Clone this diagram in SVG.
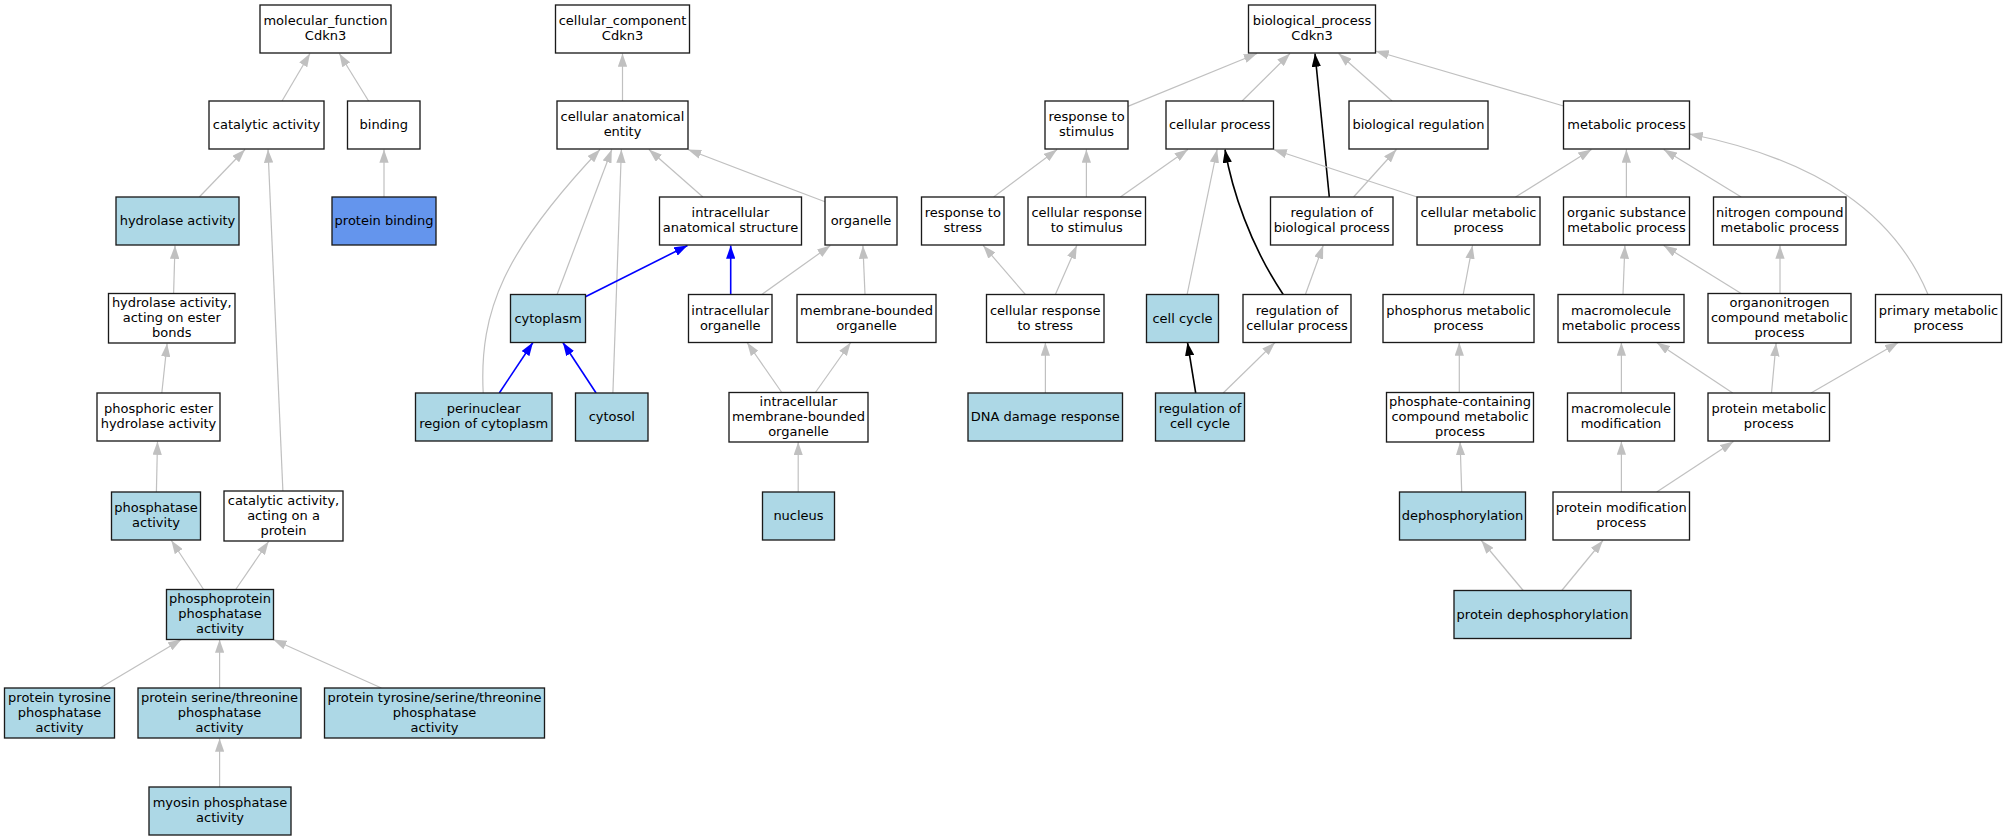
<svg xmlns="http://www.w3.org/2000/svg" width="2008" height="840" viewBox="0 0 2008 840">
<style>
.n rect{fill:#fff;stroke:#1a1a1a;stroke-width:1.33}
.n.lb rect{fill:#add8e6}
.n.cb rect{fill:#6495ed}
text{font-family:"DejaVu Sans","Liberation Sans",sans-serif;font-size:13px;text-anchor:middle;fill:#000}
.e{fill:none;stroke:#c0c0c0;stroke-width:1.2;marker-end:url(#ag)}
.e.b{stroke:#0000ff;stroke-width:1.6;marker-end:url(#ab)}
.e.k{stroke:#000;stroke-width:1.6;marker-end:url(#ak)}
</style>
<defs>
<marker id="ag" markerUnits="userSpaceOnUse" viewBox="0 0 13.3 9.3" refX="13.3" refY="4.65" markerWidth="13.3" markerHeight="9.3" orient="auto"><path d="M0,0L13.3,4.65L0,9.3z" fill="#c0c0c0"/></marker>
<marker id="ab" markerUnits="userSpaceOnUse" viewBox="0 0 13.3 9.3" refX="13.3" refY="4.65" markerWidth="13.3" markerHeight="9.3" orient="auto"><path d="M0,0L13.3,4.65L0,9.3z" fill="#0000ff"/></marker>
<marker id="ak" markerUnits="userSpaceOnUse" viewBox="0 0 13.3 9.3" refX="13.3" refY="4.65" markerWidth="13.3" markerHeight="9.3" orient="auto"><path d="M0,0L13.3,4.65L0,9.3z" fill="#000"/></marker>
</defs>
<rect width="2008" height="840" fill="#fff"/>
<g id="edges">
<path class="e" d="M282,101L310,53.5"/>
<path class="e" d="M368.6,101L339.3,53.5"/>
<path class="e" d="M199.3,197L245,149.5"/>
<path class="e" d="M384,197L384,149.5"/>
<path class="e" d="M173.6,293.5L175,245.5"/>
<path class="e" d="M161.8,393L167.1,343.5"/>
<path class="e" d="M282.9,491L268,149.5"/>
<path class="e" d="M156.4,492L157.5,441.5"/>
<path class="e" d="M203.6,589.5L171.4,540.5"/>
<path class="e" d="M235.7,589.5L268.6,541.5"/>
<path class="e" d="M100,688L181.4,639.5"/>
<path class="e" d="M219.6,688L219.6,639.5"/>
<path class="e" d="M381.4,688L273.2,639.5"/>
<path class="e" d="M219.6,787L219.6,738.5"/>
<path class="e" d="M622.5,101L622.5,53.5"/>
<path class="e" d="M702.9,197L648.9,149.5"/>
<path class="e" d="M825,201.8L687.9,149.5"/>
<path class="e" d="M557.1,294.5L611.8,149.5"/>
<path class="e" d="M483.2,393C479,310 505,250 600,149.5"/>
<path class="e" d="M612.9,393L621.4,149.5"/>
<path class="e b" d="M585.4,296.8L687.5,245.5"/>
<path class="e b" d="M730.7,294.5L730.7,245.5"/>
<path class="e" d="M761.8,294.5L830.4,245.5"/>
<path class="e" d="M865,294.5L862.9,245.5"/>
<path class="e b" d="M499.3,393L532.9,342.5"/>
<path class="e b" d="M596.1,393L562.9,342.5"/>
<path class="e" d="M781.8,392.5L747.1,342.5"/>
<path class="e" d="M815.4,392.5L850.7,342.5"/>
<path class="e" d="M798.2,492L798.2,442"/>
<path class="e" d="M1127.9,106.4L1257.1,53.5"/>
<path class="e" d="M1242.1,101L1290,53.5"/>
<path class="e k" d="M1329.3,197L1315,53.5"/>
<path class="e" d="M1392.1,101L1338.6,53.5"/>
<path class="e" d="M1563.6,106L1375.5,51"/>
<path class="e" d="M993.6,197L1057.1,149.5"/>
<path class="e" d="M1086.4,197L1086.4,149.5"/>
<path class="e" d="M1120.4,197L1187.9,149.5"/>
<path class="e" d="M1025.4,294.5L983.2,245.5"/>
<path class="e" d="M1055.4,294.5L1076.8,245.5"/>
<path class="e" d="M1045.4,393L1045.4,342.5"/>
<path class="e" d="M1187.1,294.5L1217.1,149.5"/>
<path class="e k" d="M1283.2,294.5C1250,245 1232,190 1225,149.5"/>
<path class="e" d="M1417.1,197L1273.6,149.5"/>
<path class="e" d="M1353.6,197L1396.4,149.5"/>
<path class="e" d="M1305.4,294.5L1323.2,245.5"/>
<path class="e k" d="M1195.7,393L1187.5,342.5"/>
<path class="e" d="M1223.2,393L1275,342.5"/>
<path class="e" d="M1515.5,197L1591.5,149.5"/>
<path class="e" d="M1626.4,197L1626.4,149.5"/>
<path class="e" d="M1741.2,197L1663.7,149.5"/>
<path class="e" d="M1928,294.5C1895,215 1820,160 1689.5,134"/>
<path class="e" d="M1463.2,294.5L1472.5,245.5"/>
<path class="e" d="M1623,294.5L1624.9,245.5"/>
<path class="e" d="M1741.2,293.5L1663.7,245.5"/>
<path class="e" d="M1780,293.5L1780,245.5"/>
<path class="e" d="M1459.3,392.5L1459.3,342.5"/>
<path class="e" d="M1621.4,393L1621.4,342.5"/>
<path class="e" d="M1732.7,393L1656.7,342.5"/>
<path class="e" d="M1771.5,393L1776.1,343"/>
<path class="e" d="M1811,393L1898.3,342.5"/>
<path class="e" d="M1461.7,492L1460.1,442"/>
<path class="e" d="M1621.4,492L1621.4,441.5"/>
<path class="e" d="M1656.7,492L1733.5,441.5"/>
<path class="e" d="M1523.2,590.5L1481.4,540.5"/>
<path class="e" d="M1561.8,590.5L1602.9,540.5"/>
</g>
<g id="n_mf" class="n"><rect x="260" y="5" width="131" height="48"/><text x="325.5" y="25">molecular_function</text><text x="325.5" y="40">Cdkn3</text></g>
<g id="n_cat" class="n"><rect x="209" y="101" width="115" height="48"/><text x="266.5" y="129">catalytic activity</text></g>
<g id="n_bind" class="n"><rect x="347.5" y="101" width="72.5" height="48"/><text x="383.75" y="129">binding</text></g>
<g id="n_hyd" class="n lb"><rect x="116" y="197" width="123" height="48"/><text x="177.5" y="225">hydrolase activity</text></g>
<g id="n_pbind" class="n cb"><rect x="332" y="197" width="104" height="48"/><text x="384" y="225">protein binding</text></g>
<g id="n_hydest" class="n"><rect x="108.5" y="293.5" width="126.5" height="49.5"/><text x="171.75" y="307">hydrolase activity,</text><text x="171.75" y="322">acting on ester</text><text x="171.75" y="337">bonds</text></g>
<g id="n_phest" class="n"><rect x="97" y="393" width="123" height="48"/><text x="158.5" y="413">phosphoric ester</text><text x="158.5" y="428">hydrolase activity</text></g>
<g id="n_phos" class="n lb"><rect x="111.5" y="492" width="89" height="48"/><text x="156" y="512">phosphatase</text><text x="156" y="527">activity</text></g>
<g id="n_catprot" class="n"><rect x="224" y="491" width="119" height="50"/><text x="283.5" y="504.5">catalytic activity,</text><text x="283.5" y="519.5">acting on a</text><text x="283.5" y="534.5">protein</text></g>
<g id="n_ppp" class="n lb"><rect x="166.5" y="589.5" width="107" height="50"/><text x="220" y="603">phosphoprotein</text><text x="220" y="618">phosphatase</text><text x="220" y="633">activity</text></g>
<g id="n_pty" class="n lb"><rect x="4.5" y="688" width="110" height="50"/><text x="59.5" y="701.5">protein tyrosine</text><text x="59.5" y="716.5">phosphatase</text><text x="59.5" y="731.5">activity</text></g>
<g id="n_pst" class="n lb"><rect x="138" y="688" width="163" height="50"/><text x="219.5" y="701.5">protein serine/threonine</text><text x="219.5" y="716.5">phosphatase</text><text x="219.5" y="731.5">activity</text></g>
<g id="n_ptst" class="n lb"><rect x="324.5" y="688" width="220" height="50"/><text x="434.5" y="701.5">protein tyrosine/serine/threonine</text><text x="434.5" y="716.5">phosphatase</text><text x="434.5" y="731.5">activity</text></g>
<g id="n_myo" class="n lb"><rect x="149" y="787" width="142" height="48"/><text x="220" y="807">myosin phosphatase</text><text x="220" y="822">activity</text></g>
<g id="n_cc" class="n"><rect x="555.5" y="5" width="134" height="48"/><text x="622.5" y="25">cellular_component</text><text x="622.5" y="40">Cdkn3</text></g>
<g id="n_cae" class="n"><rect x="557" y="101" width="131" height="48"/><text x="622.5" y="121">cellular anatomical</text><text x="622.5" y="136">entity</text></g>
<g id="n_ias" class="n"><rect x="659.5" y="197" width="142" height="48"/><text x="730.5" y="217">intracellular</text><text x="730.5" y="232">anatomical structure</text></g>
<g id="n_org" class="n"><rect x="825" y="197" width="72" height="48"/><text x="861" y="225">organelle</text></g>
<g id="n_cyto" class="n lb"><rect x="510.5" y="294.5" width="75" height="48"/><text x="548" y="322.5">cytoplasm</text></g>
<g id="n_io" class="n"><rect x="688.5" y="294.5" width="83.5" height="48"/><text x="730.25" y="314.5">intracellular</text><text x="730.25" y="329.5">organelle</text></g>
<g id="n_mbo" class="n"><rect x="797" y="294.5" width="139" height="48"/><text x="866.5" y="314.5">membrane-bounded</text><text x="866.5" y="329.5">organelle</text></g>
<g id="n_peri" class="n lb"><rect x="415.5" y="393" width="136.5" height="48"/><text x="483.75" y="413">perinuclear</text><text x="483.75" y="428">region of cytoplasm</text></g>
<g id="n_cytosol" class="n lb"><rect x="575.5" y="393" width="72.5" height="48"/><text x="611.75" y="421">cytosol</text></g>
<g id="n_imbo" class="n"><rect x="729" y="392.5" width="139" height="49.5"/><text x="798.5" y="406">intracellular</text><text x="798.5" y="421">membrane-bounded</text><text x="798.5" y="436">organelle</text></g>
<g id="n_nuc" class="n lb"><rect x="762.5" y="492" width="72" height="48"/><text x="798.5" y="520">nucleus</text></g>
<g id="n_bp" class="n"><rect x="1248.5" y="5" width="127" height="48"/><text x="1312" y="25">biological_process</text><text x="1312" y="40">Cdkn3</text></g>
<g id="n_rs" class="n"><rect x="1045" y="101" width="83" height="48"/><text x="1086.5" y="121">response to</text><text x="1086.5" y="136">stimulus</text></g>
<g id="n_cp" class="n"><rect x="1166" y="101" width="107.5" height="48"/><text x="1219.75" y="129">cellular process</text></g>
<g id="n_br" class="n"><rect x="1349" y="101" width="139" height="48"/><text x="1418.5" y="129">biological regulation</text></g>
<g id="n_met" class="n"><rect x="1563.5" y="101" width="126" height="48"/><text x="1626.5" y="129">metabolic process</text></g>
<g id="n_rstress" class="n"><rect x="921.5" y="197" width="82.5" height="48"/><text x="962.75" y="217">response to</text><text x="962.75" y="232">stress</text></g>
<g id="n_crs" class="n"><rect x="1028" y="197" width="117.5" height="48"/><text x="1086.75" y="217">cellular response</text><text x="1086.75" y="232">to stimulus</text></g>
<g id="n_rbp" class="n"><rect x="1270.5" y="197" width="122.5" height="48"/><text x="1331.75" y="217">regulation of</text><text x="1331.75" y="232">biological process</text></g>
<g id="n_cmp" class="n"><rect x="1417" y="197" width="123" height="48"/><text x="1478.5" y="217">cellular metabolic</text><text x="1478.5" y="232">process</text></g>
<g id="n_osmp" class="n"><rect x="1563.5" y="197" width="126" height="48"/><text x="1626.5" y="217">organic substance</text><text x="1626.5" y="232">metabolic process</text></g>
<g id="n_ncmp" class="n"><rect x="1713.5" y="197" width="132.5" height="48"/><text x="1779.75" y="217">nitrogen compound</text><text x="1779.75" y="232">metabolic process</text></g>
<g id="n_crstress" class="n"><rect x="986.5" y="294.5" width="117.5" height="48"/><text x="1045.25" y="314.5">cellular response</text><text x="1045.25" y="329.5">to stress</text></g>
<g id="n_cellcycle" class="n lb"><rect x="1146.5" y="294.5" width="72" height="48"/><text x="1182.5" y="322.5">cell cycle</text></g>
<g id="n_rcp" class="n"><rect x="1243" y="294.5" width="108" height="48"/><text x="1297" y="314.5">regulation of</text><text x="1297" y="329.5">cellular process</text></g>
<g id="n_pmp" class="n"><rect x="1383" y="294.5" width="151" height="48"/><text x="1458.5" y="314.5">phosphorus metabolic</text><text x="1458.5" y="329.5">process</text></g>
<g id="n_mmp" class="n"><rect x="1558" y="294.5" width="126" height="48"/><text x="1621" y="314.5">macromolecule</text><text x="1621" y="329.5">metabolic process</text></g>
<g id="n_onmp" class="n"><rect x="1708" y="293.5" width="143" height="49.5"/><text x="1779.5" y="307">organonitrogen</text><text x="1779.5" y="322">compound metabolic</text><text x="1779.5" y="337">process</text></g>
<g id="n_primp" class="n"><rect x="1875.5" y="294.5" width="126" height="48"/><text x="1938.5" y="314.5">primary metabolic</text><text x="1938.5" y="329.5">process</text></g>
<g id="n_dna" class="n lb"><rect x="968" y="393" width="154.5" height="48"/><text x="1045.25" y="421">DNA damage response</text></g>
<g id="n_rcc" class="n lb"><rect x="1155.5" y="393" width="89" height="48"/><text x="1200" y="413">regulation of</text><text x="1200" y="428">cell cycle</text></g>
<g id="n_pccmp" class="n"><rect x="1386.5" y="392.5" width="147" height="49.5"/><text x="1460" y="406">phosphate-containing</text><text x="1460" y="421">compound metabolic</text><text x="1460" y="436">process</text></g>
<g id="n_mm" class="n"><rect x="1567.5" y="393" width="107" height="48"/><text x="1621" y="413">macromolecule</text><text x="1621" y="428">modification</text></g>
<g id="n_prmp" class="n"><rect x="1708" y="393" width="121.5" height="48"/><text x="1768.75" y="413">protein metabolic</text><text x="1768.75" y="428">process</text></g>
<g id="n_deph" class="n lb"><rect x="1399.5" y="492" width="126" height="48"/><text x="1462.5" y="520">dephosphorylation</text></g>
<g id="n_pmod" class="n"><rect x="1553" y="492" width="136.5" height="48"/><text x="1621.25" y="512">protein modification</text><text x="1621.25" y="527">process</text></g>
<g id="n_pdeph" class="n lb"><rect x="1454" y="590.5" width="177" height="48"/><text x="1542.5" y="618.5">protein dephosphorylation</text></g>
</svg>
